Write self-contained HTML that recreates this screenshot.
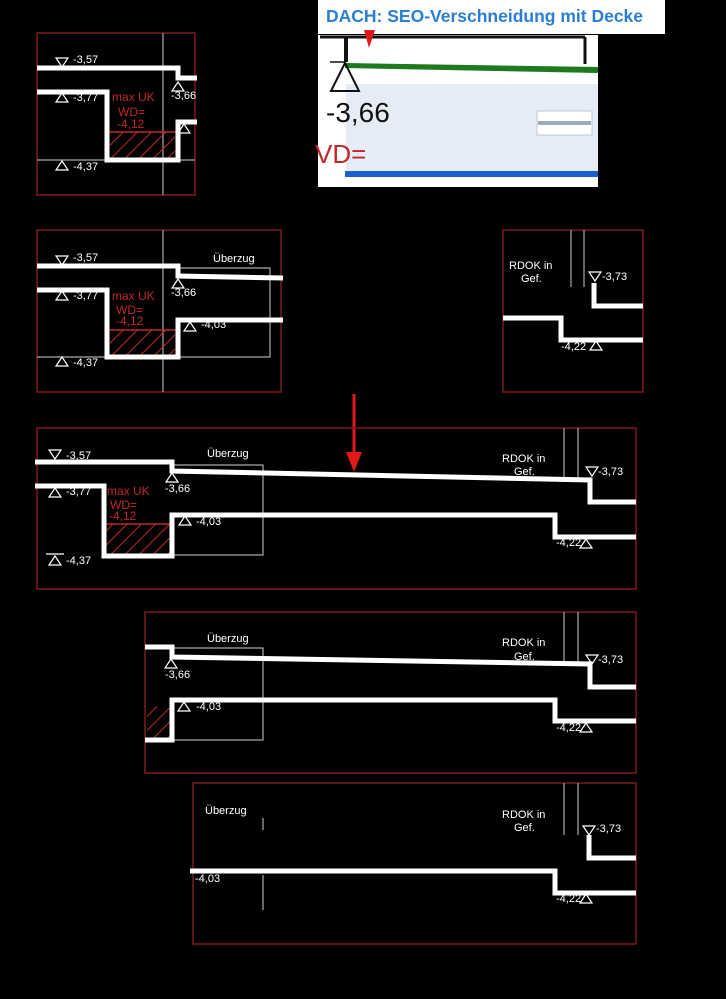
<!DOCTYPE html>
<html><head><meta charset="utf-8"><style>
html,body{margin:0;padding:0;background:#000;}
svg{display:block}
text{font-family:"Liberation Sans",sans-serif;}
.w{fill:#fff;font-size:11px}
.r{fill:#c0282a;font-size:12px}
.L{stroke:#fff;stroke-width:5;fill:none;stroke-linejoin:miter}
.g{stroke:#aaa;stroke-width:1.2;fill:none}
.b{stroke:#7a1a1a;stroke-width:1.5;fill:none}
.t{stroke:#fff;stroke-width:1.2;fill:none}
.h{stroke:#c0282a;stroke-width:1.5}
</style></head><body>
<svg width="726" height="999" viewBox="0 0 726 999" xmlns="http://www.w3.org/2000/svg">
<defs>
<pattern id="hat" width="10" height="10" patternUnits="userSpaceOnUse" patternTransform="rotate(45)">
<line x1="0" y1="0" x2="0" y2="10" stroke="#c0282a" stroke-width="2"/>
</pattern>
</defs>
<rect width="726" height="999" fill="#000"/>

<!-- Panel 1 -->
<rect x="37" y="33" width="158" height="162" class="b"/>
<line x1="163" y1="33" x2="163" y2="195" class="g"/>
<line x1="37" y1="160" x2="195" y2="160" class="g"/>
<rect x="110" y="132" width="65" height="28" fill="url(#hat)"/>
<line x1="107" y1="132" x2="178" y2="132" class="h"/>
<polyline points="37,68 178,68 178,78 197,78" class="L"/>
<polyline points="37,92 107,92 107,160 178,160 178,122 197,122" class="L"/>
<polygon points="56,58 68,58 62,67" class="t"/><text x="73" y="63" class="w">-3,57</text>
<polygon points="56,102 68,102 62,93" class="t"/><text x="73" y="101" class="w">-3,77</text>
<polygon points="56,170 68,170 62,161" class="t"/><text x="73" y="170" class="w">-4,37</text>
<polygon points="172,91 184,91 178,82" class="t"/><text x="171" y="99" class="w">-3,66</text>
<polygon points="178,133 190,133 184,124" class="t"/>
<text x="112" y="101" class="r">max UK</text><text x="118" y="116" class="r">WD=</text><text x="117" y="128" class="r">-4,12</text>

<!-- Top-right screenshot -->
<rect x="318" y="35" width="280" height="152" fill="#fff"/>
<line x1="320" y1="37" x2="585" y2="37" stroke="#111" stroke-width="3"/>
<line x1="346" y1="37" x2="346" y2="62" stroke="#111" stroke-width="4"/>
<line x1="585" y1="37" x2="585" y2="64" stroke="#111" stroke-width="3"/>
<rect x="346" y="84" width="252" height="90" fill="#e6ecf6"/>
<rect x="537" y="111" width="55" height="24" fill="#fff" stroke="#bcc"/>
<rect x="538" y="121" width="53" height="4" fill="#9ab"/>
<polygon points="345,63 598,67 598,73 345,68" fill="#1d7a1d"/>
<line x1="330" y1="62" x2="346" y2="62" stroke="#111" stroke-width="1.5"/>
<polygon points="331,91 359,91 345,63" fill="none" stroke="#111" stroke-width="2"/>
<text x="326" y="122" style="font-size:28px;fill:#111">-3,66</text>
<text x="315" y="163" style="font-size:26px;fill:#c0282a">VD=</text>
<line x1="345" y1="174" x2="598" y2="174" stroke="#1a5fd0" stroke-width="6"/>
<rect x="318" y="0" width="347" height="34" fill="#fff"/>
<text x="326" y="22" style="font-size:17.5px;font-weight:bold;fill:#2a7fd4">DACH: SEO-Verschneidung mit Decke</text>
<polygon points="364,30 375,30 369,48" fill="#e01818"/>

<!-- Panel 2 -->
<rect x="37" y="230" width="244" height="162" class="b"/>
<line x1="163" y1="230" x2="163" y2="392" class="g"/>
<line x1="37" y1="357" x2="178" y2="357" class="g"/>
<polyline points="178,268 270,268 270,357 178,357" class="g"/>
<rect x="110" y="330" width="65" height="27" fill="url(#hat)"/>
<line x1="107" y1="330" x2="178" y2="330" class="h"/>
<polyline points="37,266 178,266 178,276 283,278" class="L"/>
<polyline points="37,290 107,290 107,357 178,357 178,320 283,320" class="L"/>
<text x="213" y="262" class="w">Überzug</text>
<polygon points="56,256 68,256 62,265" class="t"/><text x="73" y="261" class="w">-3,57</text>
<polygon points="56,300 68,300 62,291" class="t"/><text x="73" y="299" class="w">-3,77</text>
<polygon points="56,366 68,366 62,357" class="t"/><text x="73" y="366" class="w">-4,37</text>
<polygon points="172,288 184,288 178,279" class="t"/><text x="171" y="296" class="w">-3,66</text>
<polygon points="184,331 196,331 190,322" class="t"/><text x="201" y="328" class="w">-4,03</text>
<text x="112" y="300" class="r">max UK</text><text x="116" y="314" class="r">WD=</text><text x="116" y="325" class="r">-4,12</text>

<!-- Panel 3 -->
<rect x="503" y="230" width="140" height="162" class="b"/>
<line x1="571" y1="230" x2="571" y2="287" class="g"/>
<line x1="584" y1="230" x2="584" y2="287" class="g"/>
<text x="509" y="269" class="w">RDOK in</text><text x="521" y="282" class="w">Gef.</text>
<polyline points="594,283 594,306 643,306" class="L"/>
<polyline points="503,318 561,318 561,340 643,340" class="L"/>
<polygon points="589,272 601,272 595,281" class="t"/><text x="602" y="280" class="w">-3,73</text>
<polygon points="590,350 602,350 596,341" class="t"/><text x="561" y="350" class="w">-4,22</text>

<!-- Red arrow -->
<line x1="354" y1="394" x2="354" y2="455" stroke="#e01818" stroke-width="3"/>
<polygon points="346,452 362,452 354,472" fill="#e01818"/>

<!-- Panel 4 -->
<rect x="37" y="428" width="599" height="161" class="b"/>
<line x1="564" y1="428" x2="564" y2="478" class="g"/>
<line x1="578" y1="428" x2="578" y2="478" class="g"/>
<polyline points="172,465 263,465 263,555 172,555" class="g"/>
<rect x="106" y="524" width="64" height="32" fill="url(#hat)"/>
<line x1="104" y1="524" x2="172" y2="524" class="h"/>
<polyline points="35,462 172,462 172,471 590,480 590,502 636,502" class="L"/>
<polyline points="35,486 104,486 104,556 172,556 172,515 555,515 555,537 636,537" class="L"/>
<text x="207" y="457" class="w">Überzug</text>
<text x="502" y="462" class="w">RDOK in</text><text x="514" y="475" class="w">Gef.</text>
<polygon points="49,450 61,450 55,459" class="t"/><text x="66" y="459" class="w">-3,57</text>
<polygon points="49,497 61,497 55,488" class="t"/><text x="66" y="495" class="w">-3,77</text>
<line x1="46" y1="554" x2="64" y2="554" class="t"/>
<polygon points="49,565 61,565 55,556" class="t"/><text x="66" y="564" class="w">-4,37</text>
<polygon points="166,482 178,482 172,473" class="t"/><text x="165" y="492" class="w">-3,66</text>
<polygon points="179,525 191,525 185,516" class="t"/><text x="196" y="525" class="w">-4,03</text>
<polygon points="586,467 598,467 592,476" class="t"/><text x="598" y="475" class="w">-3,73</text>
<polygon points="580,548 592,548 586,539" class="t"/><text x="556" y="546" class="w">-4,22</text>
<text x="107" y="495" class="r">max UK</text><text x="110" y="509" class="r">WD=</text><text x="109" y="520" class="r">-4,12</text>

<!-- Panel 5 -->
<rect x="145" y="612" width="491" height="161" class="b"/>
<line x1="564" y1="612" x2="564" y2="664" class="g"/>
<line x1="578" y1="612" x2="578" y2="664" class="g"/>
<polyline points="172,648 263,648 263,740 172,740" class="g"/>
<rect x="147" y="706" width="24" height="34" fill="url(#hat)"/>
<polyline points="145,647 172,647 172,657 590,664 590,687 636,687" class="L"/>
<polyline points="145,740 172,740 172,700 555,700 555,721 636,721" class="L"/>
<text x="207" y="642" class="w">Überzug</text>
<text x="502" y="646" class="w">RDOK in</text><text x="514" y="660" class="w">Gef.</text>
<polygon points="165,668 177,668 171,659" class="t"/><text x="165" y="678" class="w">-3,66</text>
<polygon points="178,711 190,711 184,702" class="t"/><text x="196" y="710" class="w">-4,03</text>
<polygon points="586,655 598,655 592,664" class="t"/><text x="598" y="663" class="w">-3,73</text>
<polygon points="580,732 592,732 586,723" class="t"/><text x="556" y="731" class="w">-4,22</text>

<!-- Panel 6 -->
<rect x="193" y="783" width="443" height="161" class="b"/>
<line x1="564" y1="783" x2="564" y2="835" class="g"/>
<line x1="578" y1="783" x2="578" y2="835" class="g"/>
<line x1="263" y1="818" x2="263" y2="830" class="g"/>
<line x1="263" y1="875" x2="263" y2="910" class="g"/>
<polyline points="589,835 589,858 636,858" class="L"/>
<polyline points="190,871 555,871 555,893 636,893" class="L"/>
<text x="205" y="814" class="w">Überzug</text>
<text x="502" y="818" class="w">RDOK in</text><text x="514" y="831" class="w">Gef.</text>
<text x="195" y="882" class="w">-4,03</text>
<polygon points="583,826 595,826 589,835" class="t"/><text x="596" y="832" class="w">-3,73</text>
<polygon points="580,903 592,903 586,894" class="t"/><text x="556" y="902" class="w">-4,22</text>
</svg>
</body></html>
